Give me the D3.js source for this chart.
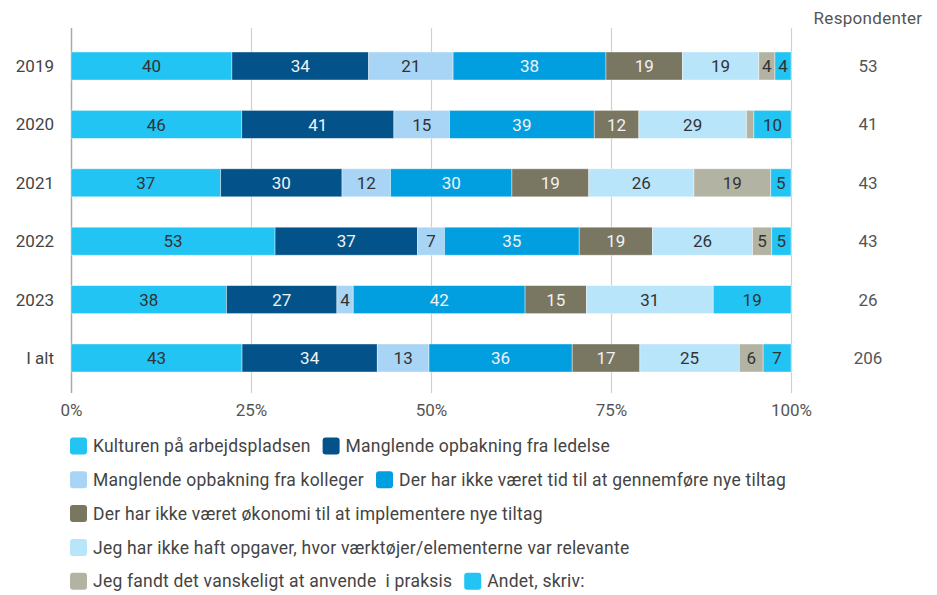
<!DOCTYPE html>
<html>
<head>
<meta charset="utf-8">
<script src="https://cdn.jsdelivr.net/npm/d3@7"></script>
<style>
  body { margin: 0; background: #fff; }
  svg { font-family: Roboto, "Noto Sans", sans-serif; }
</style>
</head>
<body>
<svg id="chart" width="937" height="595"></svg>
<script>
// categories (rows) and respondents
var years = ["2019", "2020", "2021", "2022", "2023", "I alt"];
var respondents = [53, 41, 43, 43, 26, 206];

// series names and colours
var series = [
  "Kulturen på arbejdspladsen",
  "Manglende opbakning fra ledelse",
  "Manglende opbakning fra kolleger",
  "Der har ikke været tid til at gennemføre nye tiltag",
  "Der har ikke været økonomi til at implementere nye tiltag",
  "Jeg har ikke haft opgaver, hvor værktøjer/elementerne var relevante",
  "Jeg fandt det vanskeligt at anvende  i praksis",
  "Andet, skriv:"
];
var colors = ["#21c4f3", "#03538a", "#a8d5f5", "#029fe0", "#797661", "#b8e5fa", "#b3b3a3", "#21c4f3"];
var darkSeries = [1, 3, 4];

// values per series, one per year
var kulturen   = [40, 46, 37, 53, 38, 43];
var ledelse    = [34, 41, 30, 37, 27, 34];
var kolleger   = [21, 15, 12, 7, 4, 13];
var tid        = [38, 39, 30, 35, 42, 36];
var okonomi    = [19, 12, 19, 19, 15, 17];
var opgaver    = [19, 29, 26, 26, 31, 25];
var vanskeligt = [4, 2, 19, 5, 0, 6];
var andet      = [4, 10, 5, 5, 19, 7];
var values = [kulturen, ledelse, kolleger, tid, okonomi, opgaver, vanskeligt, andet];

var ticks = [0, 0.25, 0.5, 0.75, 1];

var svg = d3.select("#chart");

// table: one row per year
var table = years.map(function(y, i) {
  var row = { year: y };
  series.forEach(function(s, j) { row[s] = values[j][i]; });
  return row;
});

var stack = d3.stack().keys(series).offset(d3.stackOffsetExpand);
var stacked = stack(table);

var x = d3.scaleLinear().domain([0, 1]).range([71, 791]);
var y = d3.scalePoint().domain(years).range([66, 358]);
var barH = 28;

// gridlines + tick labels
var xAxis = d3.axisBottom(x)
  .tickValues(ticks)
  .tickFormat(d3.format(".0%"))
  .tickSize(-(393 - 28))
  .tickPadding(11);

var xg = svg.append("g")
  .attr("transform", "translate(0,393)")
  .call(xAxis);
xg.select(".domain").remove();
xg.selectAll(".tick line")
  .attr("stroke", function(d) { return d === 0 ? "#aaa" : "#d0d0d0"; })
  .attr("stroke-width", function(d) { return d === 0 ? 1.5 : 1.2; });
xg.selectAll(".tick text")
  .attr("fill", "#555")
  .style("font-size", "17px")
  .style("font-family", "Roboto");

// year labels
svg.append("g").selectAll("text")
  .data(years)
  .enter().append("text")
  .attr("x", 54)
  .attr("y", function(d) { return y(d); })
  .attr("dy", "0.35em")
  .attr("text-anchor", "end")
  .attr("fill", "#444")
  .style("font-size", "17px")
  .text(function(d) { return d; });

// bars
var layers = svg.append("g").selectAll("g")
  .data(stacked)
  .enter().append("g")
  .attr("fill", function(d, i) { return colors[i]; });

layers.selectAll("rect")
  .data(function(d) { return d; })
  .enter().append("rect")
  .attr("x", function(d) { return x(d[0]); })
  .attr("y", function(d) { return y(d.data.year) - barH / 2; })
  .attr("width", function(d) { return x(d[1]) - x(d[0]); })
  .attr("height", barH)
  .attr("stroke", "rgba(255,255,255,0.5)")
  .attr("stroke-width", 0.8);

// value labels
layers.each(function(layer, i) {
  d3.select(this).selectAll("text")
    .data(layer.filter(function(d) { return x(d[1]) - x(d[0]) >= 10; }))
    .enter().append("text")
    .attr("x", function(d) { return (x(d[0]) + x(d[1])) / 2; })
    .attr("y", function(d) { return y(d.data.year); })
    .attr("dy", "0.36em")
    .attr("text-anchor", "middle")
    .attr("fill", darkSeries.indexOf(i) >= 0 ? "#f2f2f2" : "#333")
    .style("font-size", "17px")
    .text(function(d) { return d.data[layer.key]; });
});

// respondents column
svg.append("text")
  .attr("x", 868)
  .attr("y", 18)
  .attr("dy", "0.35em")
  .attr("text-anchor", "middle")
  .attr("fill", "#555")
  .style("font-size", "17px")
  .style("letter-spacing", "0.3px")
  .text("Respondenter");

svg.append("g").selectAll("text")
  .data(respondents)
  .enter().append("text")
  .attr("x", 868)
  .attr("y", function(d, i) { return y(years[i]); })
  .attr("dy", "0.35em")
  .attr("text-anchor", "middle")
  .attr("fill", "#555")
  .style("font-size", "17px")
  .text(function(d) { return d; });

// legend, flowing left to right and wrapping
var legend = svg.append("g");
var lx = 70, ly = 446, maxRight = 830, rowH = 33.8;
series.forEach(function(s, i) {
  var item = legend.append("g");
  item.append("rect")
    .attr("width", 17)
    .attr("height", 17)
    .attr("rx", 3)
    .attr("y", -8.5)
    .attr("fill", colors[i]);
  var t = item.append("text")
    .attr("x", 23)
    .attr("dy", "0.35em")
    .attr("fill", "#444")
    .style("font-size", "17.5px")
    .style("letter-spacing", "0.22px")
    .style("white-space", "pre")
    .text(s);
  var w = 23 + t.node().getComputedTextLength();
  if (lx > 70 && lx + w > maxRight) {
    lx = 70;
    ly += rowH;
  }
  item.attr("transform", "translate(" + lx + "," + ly + ")");
  lx += w + 12;
});
</script>
</body>
</html>
